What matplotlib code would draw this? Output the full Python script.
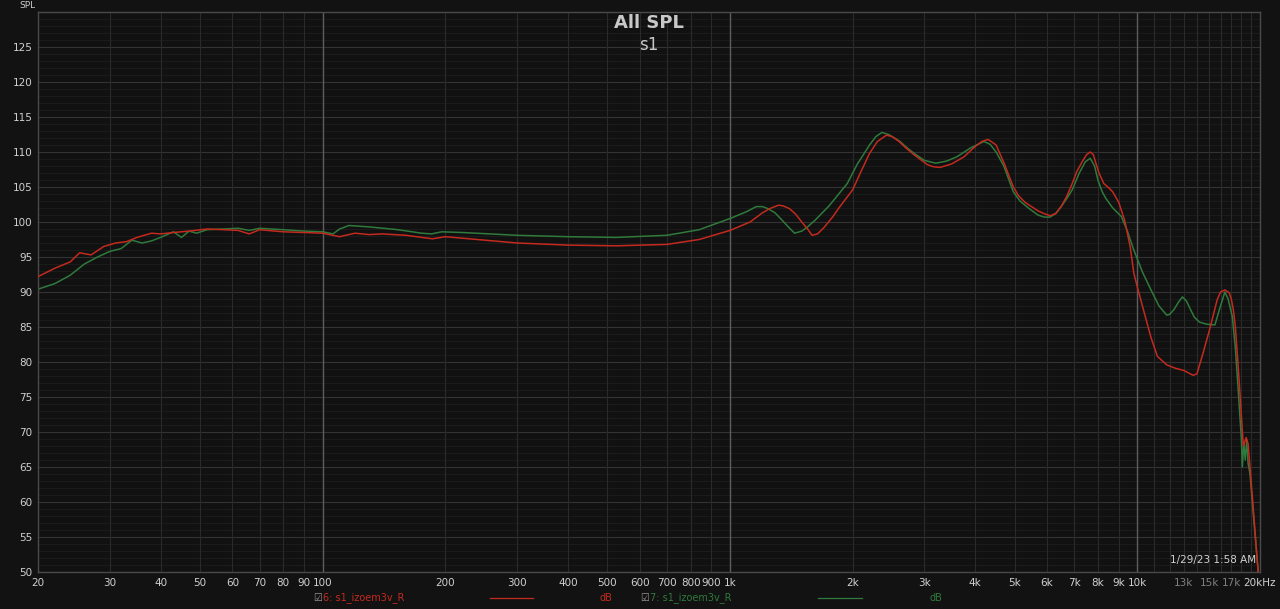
import numpy as np
import matplotlib.pyplot as plt
from matplotlib.ticker import FixedLocator, NullFormatter

# values (Hz, dB SPL)
freq_red = [20, 22, 24, 25.3, 27, 29, 31, 33, 35, 38, 40, 43, 47, 52, 57, 62, 66, 70, 80, 90,
            100, 110, 120, 130, 140, 160, 186, 200, 300, 400, 525, 700, 840, 1000,
            1120, 1200, 1250, 1315, 1350, 1400, 1450, 1500, 1550, 1590, 1640, 1700, 1790, 1850,
            2000, 2100, 2200, 2300, 2420, 2500, 2600, 2700, 2830, 3050, 3150, 3280, 3500, 3750,
            4000, 4150, 4300, 4500, 4700, 4960, 5100, 5300, 5700, 5900, 6100, 6300, 6500, 6700,
            6920, 7100, 7300, 7500, 7660, 7800, 7900, 8050, 8270, 8500, 8700, 9000, 9300, 9600,
            9800, 10000, 10400, 10800, 11200, 11800, 12400, 13000, 13700, 14000, 14500, 15100,
            15700, 16000, 16400, 16800, 17000, 17200, 17400, 17650, 17900, 18200, 18500, 18700,
            19200, 19800]
spl_red = [92.2, 93.4, 94.3, 95.6, 95.3, 96.5, 97.0, 97.2, 97.8, 98.4, 98.3, 98.5, 98.7, 99.0,
           98.9, 98.8, 98.3, 98.9, 98.6, 98.5,
           98.4, 97.9, 98.4, 98.2, 98.3, 98.1, 97.6, 97.9, 97.0, 96.7, 96.6, 96.8, 97.5, 98.8,
           100.0, 101.3, 101.9, 102.4, 102.3, 101.9, 101.1, 100.0, 99.0, 98.1, 98.3, 99.2, 100.8,
           102.0,
           104.6, 107.3, 109.8, 111.5, 112.4, 112.2, 111.5, 110.6, 109.6, 108.2, 107.9, 107.8,
           108.3, 109.3,
           110.8, 111.5, 111.8, 111.0, 108.5, 105.0, 103.8, 102.8, 101.6, 101.2, 100.9, 101.2,
           102.2, 103.6,
           105.5, 107.2, 108.5, 109.6, 110.0, 109.6, 108.5, 107.0, 105.5, 104.9, 104.3, 102.8,
           100.3, 96.5,
           92.7, 90.7, 87.0, 83.5, 80.8, 79.6, 79.1, 78.8, 78.1, 78.3, 81.3, 85.0,
           88.9, 90.0, 90.3, 89.9, 89.0, 87.5, 85.0, 80.0, 74.6, 68.0, 69.2, 68.3,
           60.0, 50.0]

freq_green = [20, 22, 24, 26, 28, 30, 32, 34, 36, 38, 40, 43, 45, 47, 49, 52, 57, 62, 66, 70,
              80, 90, 100, 106, 110, 116, 130, 153, 175, 185, 196, 220, 300, 400, 525, 700,
              840, 1000, 1100, 1160, 1200, 1240, 1290, 1340, 1390, 1440, 1500, 1550, 1620, 1750,
              1940, 2050, 2200, 2280, 2360, 2450, 2600, 2720, 2830, 3000, 3200, 3400, 3600, 3900,
              4200, 4350, 4500, 4700, 4960, 5150, 5400, 5700, 5900, 6100, 6300, 6500, 6700, 6920,
              7200, 7450, 7660, 7850, 8000, 8200, 8360, 8700, 9130, 9450, 9800, 10300, 10800,
              11300, 11800, 12000, 12300, 12600, 12900, 13200, 13500, 13800, 14200, 14800, 15500,
              15900, 16400, 16700, 17100, 17400, 17700,
              18000, 18100, 18250, 18400, 18550, 18700, 18900, 19400, 19800]
spl_green = [90.4, 91.2, 92.4, 94.0, 95.0, 95.8, 96.2, 97.4, 97.0, 97.3, 97.8, 98.6, 97.8, 98.7,
             98.4, 98.9, 99.0, 99.1, 98.8, 99.1,
             98.9, 98.7, 98.6, 98.3, 99.0, 99.5, 99.3, 98.9, 98.4, 98.3, 98.6, 98.5, 98.1, 97.9,
             97.8, 98.1,
             98.9, 100.5, 101.5, 102.2, 102.2, 101.9, 101.3, 100.3, 99.3, 98.4, 98.7, 99.3, 100.3,
             102.3,
             105.5, 108.2, 111.0, 112.2, 112.8, 112.5, 111.6, 110.6, 109.8, 108.8, 108.4, 108.7,
             109.3, 110.6,
             111.5, 111.1, 110.0, 108.0, 104.3, 103.0, 102.0, 101.0, 100.7, 100.7, 101.2, 102.2,
             103.3, 104.6,
             107.0, 108.6, 109.1, 108.0, 106.0, 104.3, 103.4, 102.0, 100.8, 98.7, 96.0, 92.8, 90.3,
             88.0, 86.7, 86.8, 87.5, 88.5, 89.3, 88.7, 87.5, 86.4, 85.7, 85.4, 85.3,
             87.5, 90.0, 89.0, 86.5, 82.0, 75.6,
             69.0, 65.0, 68.5, 66.0, 68.8, 65.5, 64.0, 56.0, 50.0]

major_ticks = [20, 30, 40, 50, 60, 70, 80, 90, 100, 200, 300, 400, 500, 600, 700, 800, 900,
               1000, 2000, 3000, 4000, 5000, 6000, 7000, 8000, 9000, 10000, 13000, 15000, 17000, 20000]
tick_labels = ['20', '30', '40', '50', '60', '70', '80', '90', '100', '200', '300', '400', '500',
               '600', '700', '800', '900', '1k', '2k', '3k', '4k', '5k', '6k', '7k', '8k', '9k',
               '10k', '13k', '15k', '17k', '20kHz']
dim_labels = ['13k', '15k', '17k']

red = '#c42a1e'
green = '#2f7a3c'
bg = '#121212'

fig = plt.figure(figsize=(12.8, 6.09), dpi=100, facecolor=bg)
ax = fig.add_axes([38 / 1280, 1 - 572 / 609, 1222 / 1280, 560 / 609])
ax.set_facecolor('#111111')
ax.set_xscale('log')
ax.set_xlim(20, 20000)
ax.set_ylim(50, 130)

# grid
for y in range(51, 130):
    col = '#333333' if y % 5 == 0 else '#1b1b1b'
    ax.axhline(y, color=col, lw=0.8, zorder=0)
grid_x = [f for f in major_ticks] + [11000, 12000, 14000, 16000, 18000, 19000]
for f in grid_x:
    if f in (100, 1000, 10000):
        col, lw = '#5e5e5e', 1.0
    else:
        col, lw = '#2a2a2a', 0.8
    ax.axvline(f, color=col, lw=lw, zorder=0)

ax.plot(freq_red, spl_red, color=red, lw=1.1, zorder=3)
ax.plot(freq_green, spl_green, color=green, lw=1.1, zorder=2)

ax.xaxis.set_major_locator(FixedLocator(major_ticks))
ax.xaxis.set_minor_formatter(NullFormatter())
ax.xaxis.set_minor_locator(FixedLocator([]))
ax.set_xticklabels(tick_labels)
ax.set_yticks(range(50, 130, 5))
ax.tick_params(axis='both', length=0, labelsize=7.5, colors='#d0d0d0', pad=4)
for lab in ax.get_xticklabels():
    if lab.get_text() in dim_labels:
        lab.set_color('#808080')
for s in ax.spines.values():
    s.set_color('#4a4a4a')
    s.set_linewidth(1.0)

# titles and labels
fig.text(649 / 1280, 1 - 23 / 609, 'All SPL', ha='center', va='center', fontsize=13,
         fontweight='bold', color='#c8c8c8')
fig.text(649 / 1280, 1 - 45 / 609, 's1', ha='center', va='center', fontsize=12, color='#c8c8c8')
fig.text(19 / 1280, 1 - 5.5 / 609, 'SPL', ha='left', va='center', fontsize=6.5, color='#d0d0d0')
ax.text(0.997, 0.012, '1/29/23 1:58 AM', transform=ax.transAxes, ha='right', va='bottom',
        fontsize=7.5, color='#d0d0d0')

# legend row
ly = 1 - 598 / 609
fig.text(313 / 1280, ly, '\u2611', ha='left', va='center', fontsize=7, color='#9a9a9a')
fig.text(323 / 1280, ly, '6: s1_izoem3v_R', ha='left', va='center', fontsize=7, color=red)
fig.add_artist(plt.Line2D([490 / 1280, 533 / 1280], [ly, ly], color=red, lw=0.9))
fig.text(600 / 1280, ly, 'dB', ha='left', va='center', fontsize=7, color=red)
fig.text(640 / 1280, ly, '\u2611', ha='left', va='center', fontsize=7, color='#9a9a9a')
fig.text(650 / 1280, ly, '7: s1_izoem3v_R', ha='left', va='center', fontsize=7, color=green)
fig.add_artist(plt.Line2D([818 / 1280, 862 / 1280], [ly, ly], color=green, lw=0.9))
fig.text(929 / 1280, ly, 'dB', ha='left', va='center', fontsize=7, color=green)

fig.savefig('out.png', dpi=100, facecolor=bg)
